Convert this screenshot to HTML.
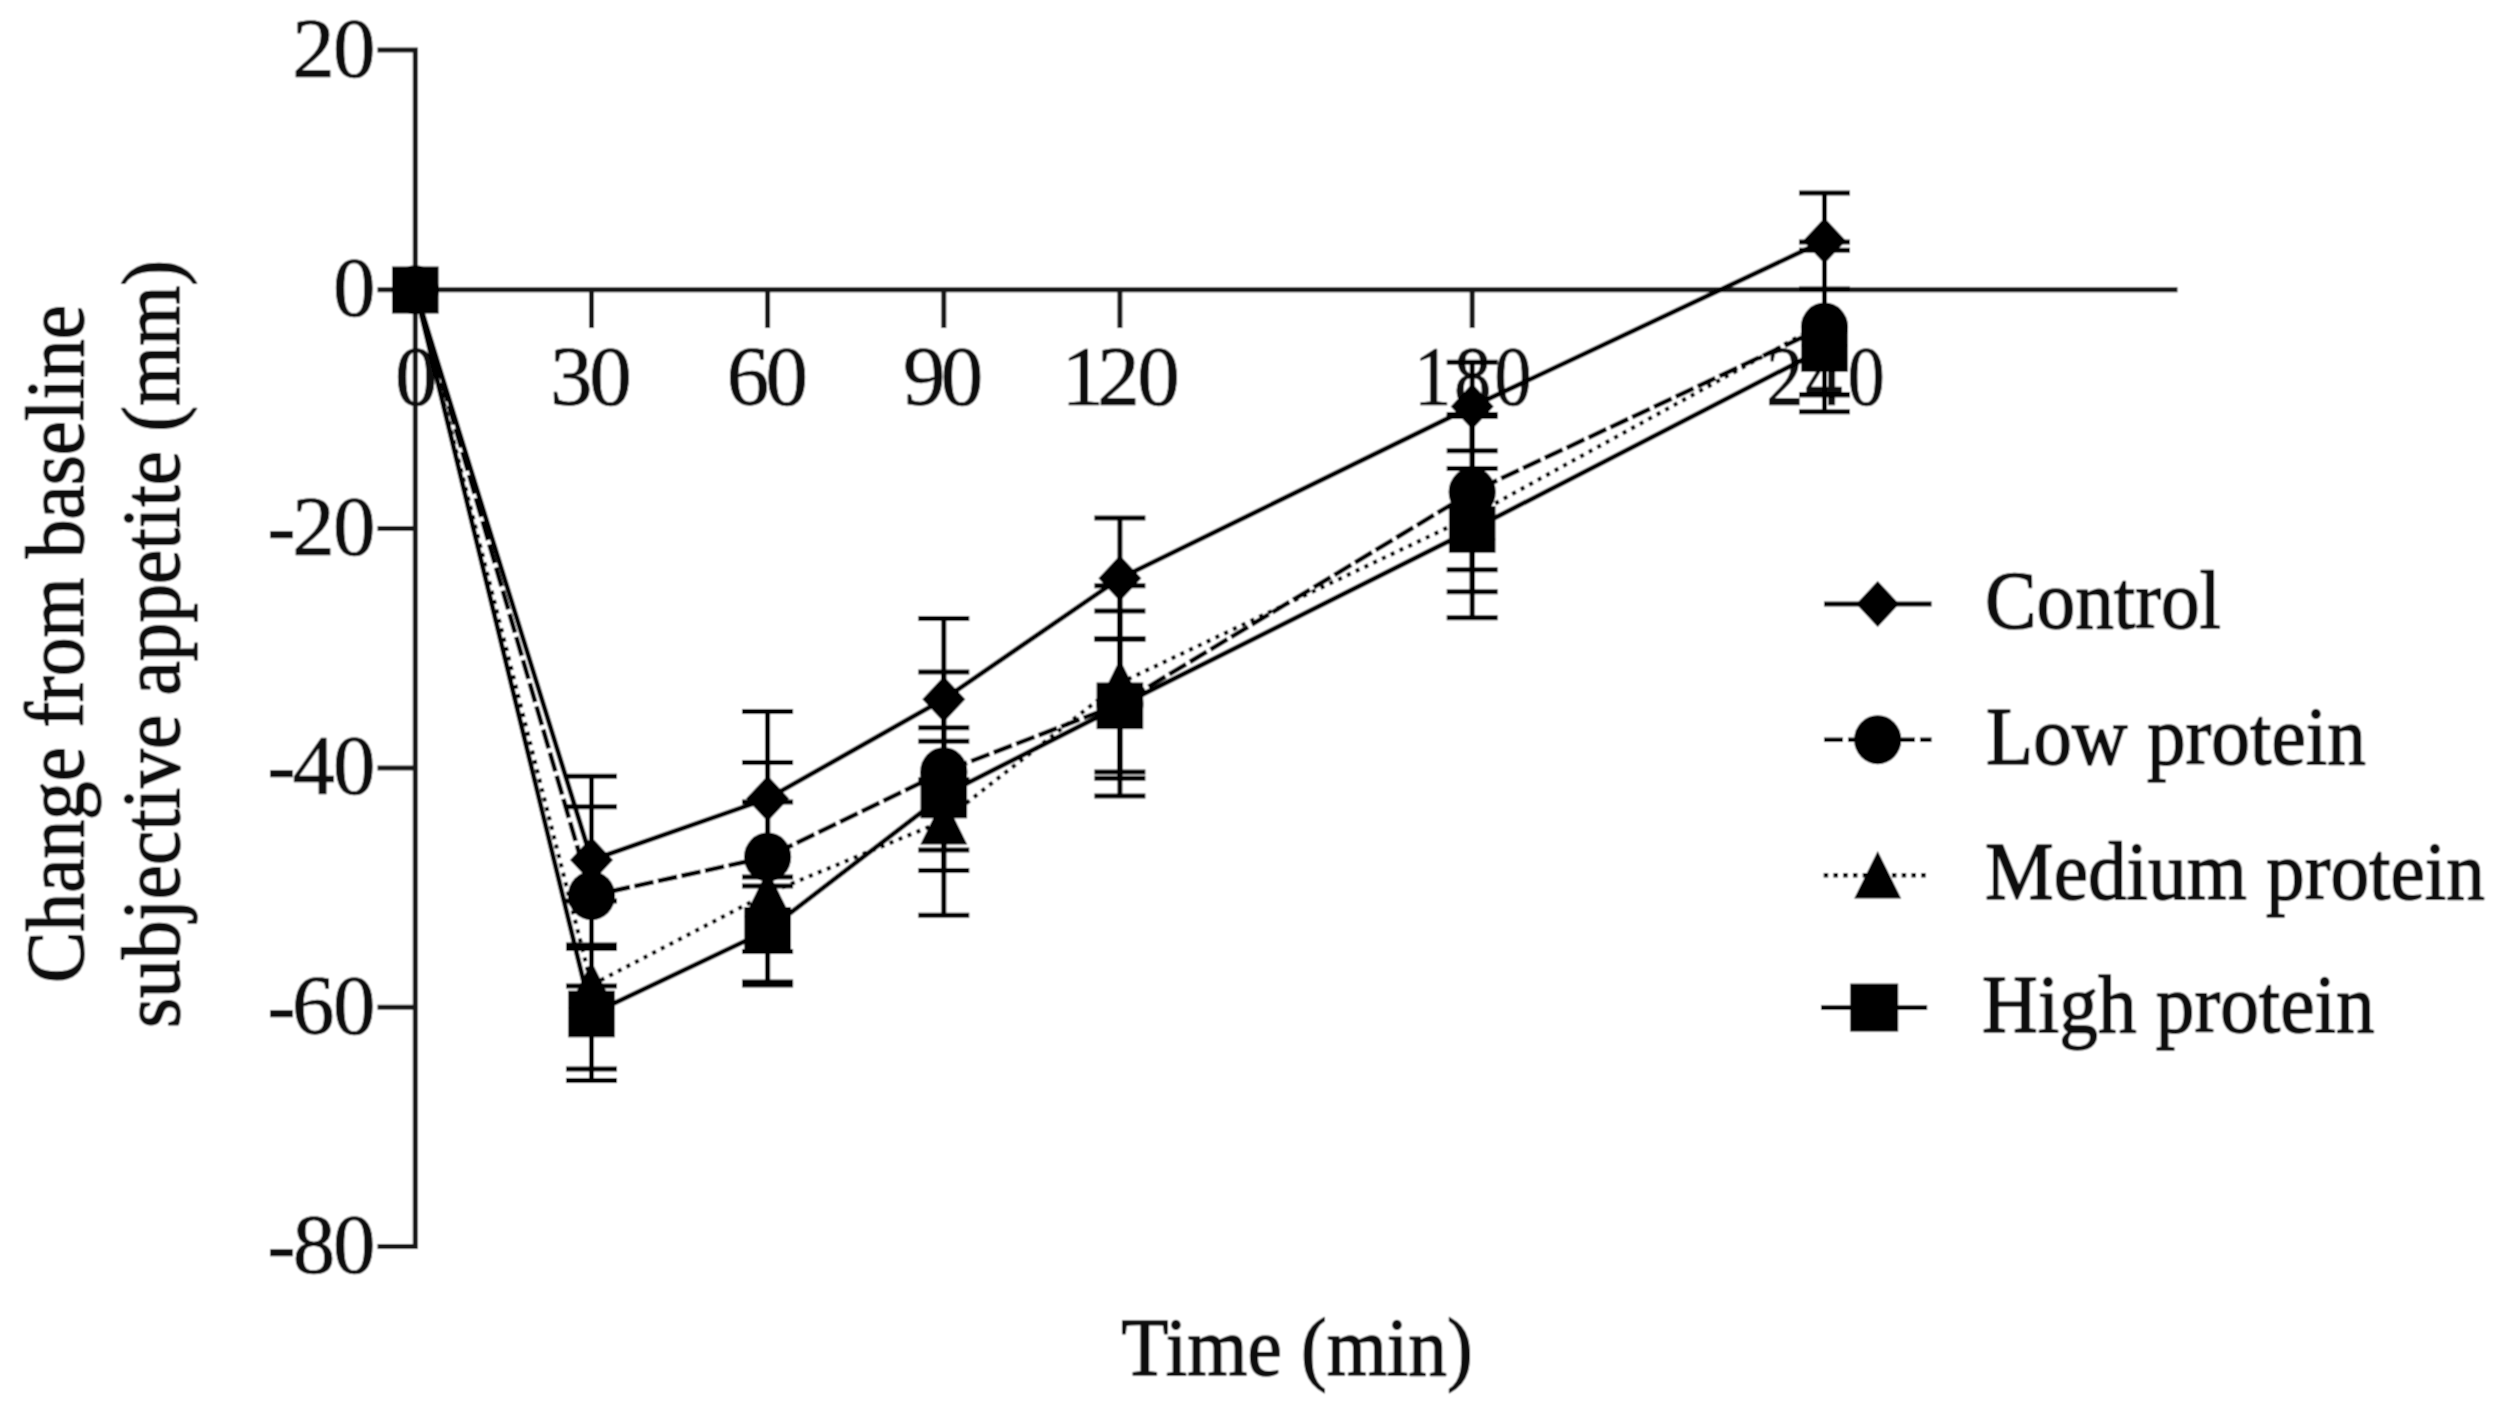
<!DOCTYPE html>
<html lang="en">
<head>
<meta charset="utf-8">
<title>Change from baseline subjective appetite</title>
<style>
html,body{margin:0;padding:0;background:#fff;}
body{width:2500px;height:1411px;overflow:hidden;}
svg{display:block;}
text{font-family:"Liberation Serif",serif;fill:#0a0a0a;}
.ax{font-size:83px;stroke:#0a0a0a;stroke-width:1.5px;stroke-linejoin:round;}
.tk{font-size:85px;stroke:#0a0a0a;stroke-width:0.7px;stroke-linejoin:round;}
</style>
</head>
<body>
<svg width="2500" height="1411" viewBox="0 0 2500 1411">
<defs><filter id="soft" x="0" y="0" width="2500" height="1411" filterUnits="userSpaceOnUse"><feConvolveMatrix order="3" kernelMatrix="1 2 1 2 4 2 1 2 1" divisor="16" edgeMode="duplicate" preserveAlpha="false"/></filter></defs>
<g filter="url(#soft)">
<rect x="0" y="0" width="2500" height="1411" fill="#ffffff"/>
<g stroke="#161616" stroke-width="5" fill="none" stroke-linecap="butt">
<path d="M377.5 50H415.3V1246.5H377.5"/>
<path d="M377.5 528.6H415.3"/>
<path d="M377.5 767.9H415.3"/>
<path d="M377.5 1007.2H415.3"/>
<path d="M377.5 289.8H2177.5"/>
<path d="M591.5 289.8V328"/>
<path d="M767.6 289.8V328"/>
<path d="M943.8 289.8V328"/>
<path d="M1119.9 289.8V328"/>
<path d="M1472.2 289.8V328"/>
<path d="M1824.5 289.8V328"/>
</g>
<g class="tk">
<text x="292.3 333.1" y="76.5">20</text>
<text x="333.1" y="316.3">0</text>
<text x="267.3 292.3 333.1" y="555.1">-20</text>
<text x="267.3 292.4 333.1" y="794.4">-40</text>
<text x="267.3 292.1 333.1" y="1033.7">-60</text>
<text x="267.3 292.7 333.1" y="1273.0">-80</text>
<text x="395" y="404.8">0</text>
<text x="549.9 589.3" y="404.8">30</text>
<text x="726.8 765.6" y="404.8">60</text>
<text x="902.9 940.8" y="404.8">90</text>
<text x="1061.5 1097.3 1137.3" y="404.8">120</text>
<text transform="scale(0.88 1)" x="1606.9 1652.3 1698.1" y="404.8">180</text>
<text transform="scale(0.88 1)" x="2006.7 2051.3 2099.4" y="404.8">240</text>
</g>
<text class="ax" text-anchor="middle" transform="translate(82.8 644) rotate(-90) scale(0.931 1)">Change from baseline</text>
<text class="ax" text-anchor="middle" transform="translate(179.3 644) rotate(-90) scale(0.931 1)">subjective appetite (mm)</text>
<text class="ax" text-anchor="middle" transform="translate(1297 1374.5) scale(0.931 1)">Time (min)</text>
<g stroke="#000" stroke-width="5" fill="none">
<path d="M591.5 776.2V945M566.0 776.2h51M566.0 945h51"/>
<path d="M591.5 806.8V986M566.0 806.8h51M566.0 986h51"/>
<path d="M591.5 901V1069M566.0 901h51M566.0 1069h51"/>
<path d="M591.5 948.5V1080.5M566.0 948.5h51M566.0 1080.5h51"/>
<path d="M767.6 711.4V886M742.1 711.4h51M742.1 886h51"/>
<path d="M767.6 762.4V951.5M742.1 762.4h51M742.1 951.5h51"/>
<path d="M767.6 802V985M742.1 802h51M742.1 985h51"/>
<path d="M767.6 877V982M742.1 877h51M742.1 982h51"/>
<path d="M943.8 618.6V779.8M918.3 618.6h51M918.3 779.8h51"/>
<path d="M943.8 672.1V870.5M918.3 672.1h51M918.3 870.5h51"/>
<path d="M943.8 727.8V915.3M918.3 727.8h51M918.3 915.3h51"/>
<path d="M943.8 741.3V850M918.3 741.3h51M918.3 850h51"/>
<path d="M1119.9 518V638.7M1094.4 518h51M1094.4 638.7h51"/>
<path d="M1119.9 611V796.1M1094.4 611h51M1094.4 796.1h51"/>
<path d="M1119.9 585.7V778.3M1094.4 585.7h51M1094.4 778.3h51"/>
<path d="M1119.9 639.3V772M1094.4 639.3h51M1094.4 772h51"/>
<path d="M1472.2 362.2V450.7M1446.7 362.2h51M1446.7 450.7h51"/>
<path d="M1472.2 416.5V569.8M1446.7 416.5h51M1446.7 569.8h51"/>
<path d="M1472.2 468.6V591.8M1446.7 468.6h51M1446.7 591.8h51"/>
<path d="M1472.2 414.5V617.8M1446.7 414.5h51M1446.7 617.8h51"/>
<path d="M1824.5 193V289M1799.0 193h51M1799.0 289h51"/>
<path d="M1824.5 242V411.8M1799.0 242h51M1799.0 411.8h51"/>
<path d="M1824.5 250.2V394.8M1799.0 250.2h51M1799.0 394.8h51"/>
<path d="M1824.5 348V394.8M1799.0 394.8h51"/>
</g>
<g stroke="#000" fill="none" stroke-linejoin="miter">
<polyline points="415.3,289.8 591.5,860 767.6,798.6 943.8,699.2 1119.9,578.3 1472.2,406.5 1824.5,240.8" stroke-width="4.9"/>
<polyline points="415.3,289.8 591.5,895.6 767.6,857 943.8,771.7 1119.9,704 1472.2,492 1824.5,327" stroke-width="4.7" stroke-dasharray="19.6 4.5"/>
<polyline points="415.3,289.8 591.5,985 767.6,893.5 943.8,820.8 1119.9,683 1472.2,516 1824.5,322.5" stroke-width="4.1" stroke-dasharray="4.1 5.6"/>
<polyline points="415.3,289.8 591.5,1014 767.6,930.4 943.8,795 1119.9,705.8 1472.2,529.5 1824.5,348.5" stroke-width="4.9"/>
</g>
<g fill="#000">
<path d="M415.3 266.8L436.8 289.8L415.3 312.8L393.8 289.8Z"/>
<path d="M591.5 837L613.0 860L591.5 883L570.0 860Z"/>
<path d="M767.6 775.6L789.1 798.6L767.6 821.6L746.1 798.6Z"/>
<path d="M943.8 676.2L965.3 699.2L943.8 722.2L922.3 699.2Z"/>
<path d="M1119.9 555.3L1141.4 578.3L1119.9 601.3L1098.4 578.3Z"/>
<path d="M1472.2 383.5L1493.7 406.5L1472.2 429.5L1450.7 406.5Z"/>
<path d="M1824.5 217.8L1846.0 240.8L1824.5 263.8L1803.0 240.8Z"/>
<ellipse cx="415.3" cy="289.8" rx="23.6" ry="24.5"/>
<ellipse cx="591.5" cy="895.6" rx="23.6" ry="24.5"/>
<ellipse cx="767.6" cy="857" rx="23.6" ry="24.5"/>
<ellipse cx="943.8" cy="771.7" rx="23.6" ry="24.5"/>
<ellipse cx="1119.9" cy="704" rx="23.6" ry="24.5"/>
<ellipse cx="1472.2" cy="492" rx="23.6" ry="24.5"/>
<ellipse cx="1824.5" cy="327" rx="23.6" ry="24.5"/>
<path d="M415.3 266.0L438.8 313.6H391.8Z"/>
<path d="M591.5 961.2L615.0 1008.8H568.0Z"/>
<path d="M767.6 869.7L791.1 917.3H744.1Z"/>
<path d="M943.8 797.0L967.3 844.5999999999999H920.3Z"/>
<path d="M1119.9 659.2L1143.4 706.8H1096.4Z"/>
<path d="M1472.2 492.2L1495.7 539.8H1448.7Z"/>
<path d="M1824.5 298.7L1848.0 346.3H1801.0Z"/>
<rect x="392.0" y="266.5" width="46.6" height="46.6"/>
<rect x="568.2" y="990.7" width="46.6" height="46.6"/>
<rect x="744.3" y="907.1" width="46.6" height="46.6"/>
<rect x="920.5" y="771.7" width="46.6" height="46.6"/>
<rect x="1096.6" y="682.5" width="46.6" height="46.6"/>
<rect x="1448.9" y="506.2" width="46.6" height="46.6"/>
<rect x="1801.2" y="325.2" width="46.6" height="46.6"/>
</g>
<g stroke="#000" fill="none">
<path d="M1824 604H1931.6" stroke-width="4.8"/>
<path d="M1824 739.7H1931.6" stroke-width="4.6" stroke-dasharray="19 5"/>
<path d="M1823.7 875.2H1927" stroke-width="4.5" stroke-dasharray="4.5 5.25"/>
<path d="M1821 1007.7H1927.2" stroke-width="4.8"/>
</g>
<g fill="#000">
<path d="M1877.7 581L1899.2 604L1877.7 627L1856.2 604Z"/>
<ellipse cx="1877.7" cy="739.7" rx="23.6" ry="24.5"/>
<path d="M1877.7 851.0L1901.2 898.5999999999999H1854.2Z"/>
<rect x="1850.2" y="983.6" width="48" height="48"/>
</g>
<g class="ax">
<text transform="translate(1985 628) scale(0.931 1)">Control</text>
<text transform="translate(1986 764) scale(0.931 1)">Low protein</text>
<text transform="translate(1985 898.5) scale(0.931 1)">Medium protein</text>
<text transform="translate(1982 1032) scale(0.931 1)">High protein</text>
</g>
</g>
</svg>
</body>
</html>
